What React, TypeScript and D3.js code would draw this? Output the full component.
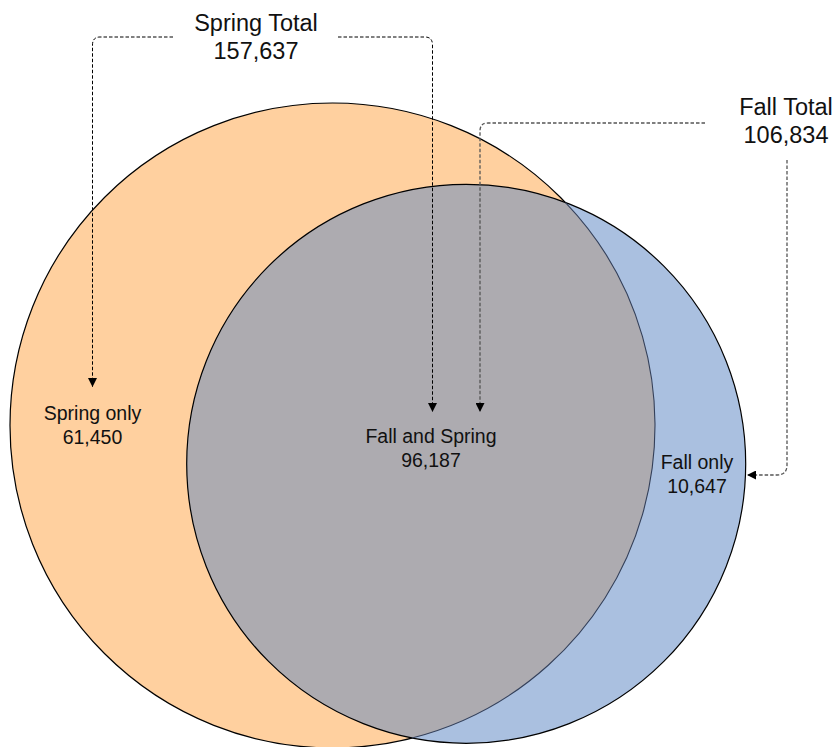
import React from "react";
import * as d3 from "d3";

// Set names and their counts
const setNames = ["Spring", "Fall"];
const springOnly = 61450;
const fallAndSpring = 96187;
const fallOnly = 10647;
const springTotal = springOnly + fallAndSpring;
const fallTotal = fallOnly + fallAndSpring;

const regionLabels = ["Spring only", "Fall and Spring", "Fall only"];
const regionValues = [springOnly, fallAndSpring, fallOnly];
const totalLabels = ["Spring Total", "Fall Total"];
const totalValues = [springTotal, fallTotal];

const W = 837;
const H = 747;

// Circle layout
const spring = { cx: 332.5, cy: 425.5, r: 322.5 };
const fall = { cx: 466.2, cy: 463.8, r: 279.5 };

const fmt = d3.format(",");

function intersections(a: typeof spring, b: typeof spring) {
  const dx = b.cx - a.cx;
  const dy = b.cy - a.cy;
  const d = Math.hypot(dx, dy);
  const l = (a.r * a.r - b.r * b.r + d * d) / (2 * d);
  const h = Math.sqrt(a.r * a.r - l * l);
  const mx = a.cx + (l * dx) / d;
  const my = a.cy + (l * dy) / d;
  const p = { x: mx + (h * dy) / d, y: my - (h * dx) / d };
  const q = { x: mx - (h * dy) / d, y: my + (h * dx) / d };
  return p.y < q.y ? [p, q] : [q, p];
}

export default function App() {
  const [top, bottom] = intersections(spring, fall);

  // Lens: along spring's right side top->bottom, then fall's left side bottom->top
  const lens = `M${top.x},${top.y} A${spring.r},${spring.r} 0 0 1 ${bottom.x},${bottom.y} A${fall.r},${fall.r} 0 1 1 ${top.x},${top.y} Z`;
  const innerSpringArc = `M${top.x},${top.y} A${spring.r},${spring.r} 0 0 1 ${bottom.x},${bottom.y}`;

  const font = "'Liberation Sans', Arial, sans-serif";
  const textColor = "#111";

  const labelPos = [
    { x: 92.5, y: 420 },
    { x: 431, y: 443 },
    { x: 697, y: 469 },
  ];
  const totalPos = [
    { x: 256, y: 31 },
    { x: 786, y: 115 },
  ];

  return (
    <svg
      width={W}
      height={H}
      viewBox={`0 0 ${W} ${H}`}
      style={{ position: "absolute", left: 0, top: 0, background: "#fff" }}
    >
      <defs>
        <marker id="arrowBlack" viewBox="0 0 10 10" refX="10" refY="5" markerWidth="9" markerHeight="9" markerUnits="userSpaceOnUse" orient="auto">
          <path d="M0,0 L10,5 L0,10 Z" fill="#000" />
        </marker>
      </defs>

      {/* Spring circle */}
      <circle cx={spring.cx} cy={spring.cy} r={spring.r} fill="#FFD09F" stroke="#000" strokeWidth={1.2} />
      {/* Fall circle */}
      <circle cx={fall.cx} cy={fall.cy} r={fall.r} fill="#AAC0E0" stroke="none" />
      {/* Overlap */}
      <path d={lens} fill="#ADABB0" stroke="none" />
      <circle cx={fall.cx} cy={fall.cy} r={fall.r} fill="none" stroke="#000" strokeWidth={1.2} />
      <path d={innerSpringArc} fill="none" stroke="#34405a" strokeWidth={1.1} />

      {/* Spring total callout */}
      <path d="M173,37 H100 Q92.5,37 92.5,45 V387" fill="none" stroke="#000" strokeWidth={1} strokeDasharray="3.5 2" markerEnd="url(#arrowBlack)" />
      <path d="M338,37 H425 Q432.5,37 432.5,45 V412" fill="none" stroke="#000" strokeWidth={1} strokeDasharray="3.5 2" markerEnd="url(#arrowBlack)" />

      {/* Fall total callout */}
      <path d="M705,123 H488 Q480,123 480,131 V412" fill="none" stroke="#555" strokeWidth={1.3} strokeDasharray="3.5 2" markerEnd="url(#arrowBlack)" />
      <path d="M787,160 V465 Q787,475 777,475 H747" fill="none" stroke="#555" strokeWidth={1.3} strokeDasharray="3.5 2" markerEnd="url(#arrowBlack)" />

      {/* Totals */}
      {totalLabels.map((t, i) => (
        <text key={t} x={totalPos[i].x} y={totalPos[i].y} textAnchor="middle" fontFamily={font} fontSize={23.5} fill={textColor}>
          <tspan x={totalPos[i].x}>{t}</tspan>
          <tspan x={totalPos[i].x} dy={27.5}>{fmt(totalValues[i])}</tspan>
        </text>
      ))}

      {/* Region labels */}
      {regionLabels.map((t, i) => (
        <text key={t} x={labelPos[i].x} y={labelPos[i].y} textAnchor="middle" fontFamily={font} fontSize={19.5} fill={textColor}>
          <tspan x={labelPos[i].x}>{t}</tspan>
          <tspan x={labelPos[i].x} dy={23.5}>{fmt(regionValues[i])}</tspan>
        </text>
      ))}
      <title>{setNames.join(" / ")}</title>
    </svg>
  );
}
